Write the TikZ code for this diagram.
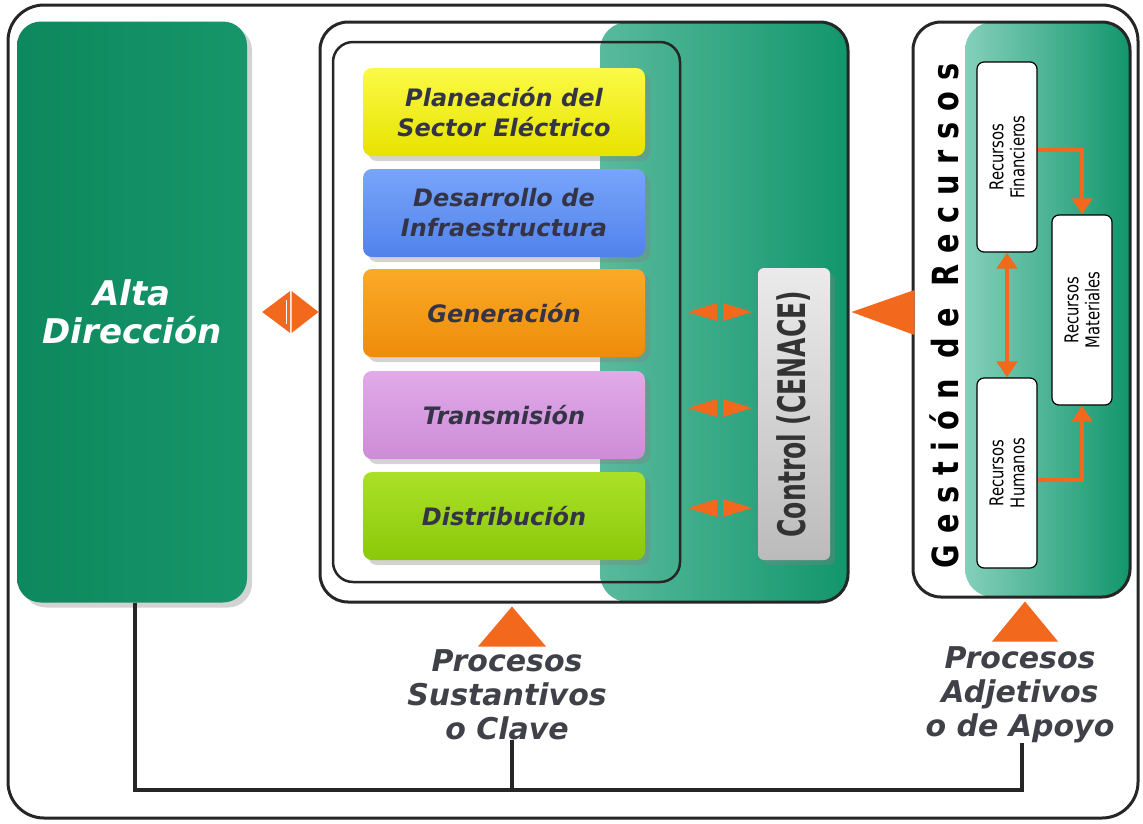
\documentclass[tikz,border=0pt]{standalone}
\usepackage{fontspec}
\setmainfont{DejaVu Sans}
\newfontfamily\narrowfont[FakeStretch=0.66]{DejaVu Sans}
\newfontfamily\resfont[FakeStretch=0.78]{DejaVu Sans}
\newfontfamily\spacedfont[FakeStretch=0.8,LetterSpace=30]{DejaVu Sans}
\usetikzlibrary{shadows,arrows.meta,calc}

\definecolor{altagreen}{RGB}{14,136,94}
\definecolor{altagreenL}{RGB}{22,150,106}
\definecolor{tealL}{RGB}{168,226,210}
\definecolor{tealR}{RGB}{18,150,108}
\definecolor{arrowora}{RGB}{242,104,28}
\definecolor{inktext}{RGB}{52,52,70}
\definecolor{lbltext}{RGB}{64,64,72}
\definecolor{ylwT}{RGB}{250,250,70}\definecolor{ylwB}{RGB}{232,226,0}
\definecolor{bluT}{RGB}{120,165,250}\definecolor{bluB}{RGB}{80,130,235}
\definecolor{orgT}{RGB}{250,170,40}\definecolor{orgB}{RGB}{238,140,10}
\definecolor{vioT}{RGB}{225,170,232}\definecolor{vioB}{RGB}{205,140,215}
\definecolor{grnT}{RGB}{170,225,40}\definecolor{grnB}{RGB}{140,200,10}
\definecolor{ctrlgray}{RGB}{220,220,220}

\tikzset{
  procbox/.style={rounded corners=9pt, minimum width=282pt, minimum height=88pt,
    align=center, font=\fontsize{24}{30}\selectfont\bfseries\itshape, text=inktext,
    drop shadow={opacity=0.35, shadow xshift=5pt, shadow yshift=-5pt}},
  resbox/.style={draw=black, line width=1.2pt, fill=white, rounded corners=7pt,
    minimum width=190pt, minimum height=60pt, rotate=90, align=center,
    font=\resfont\fontsize{19}{21}\selectfont},
  panelframe/.style={draw=black!85, line width=3pt, rounded corners=28pt},
  oraline/.style={draw=arrowora, line width=4pt},
  oratip/.style={-{Triangle[width=20pt,length=16pt]}},
  bus/.style={draw=black!85, line width=4pt},
  lbl/.style={align=center, inner sep=0pt, text=lbltext,
    font=\fontsize{30}{34}\selectfont\bfseries\itshape},
  pics/dblarrow/.style={code={
    \fill[arrowora] (-3,-9) -- (-32,0) -- (-3,9) -- cycle;
    \fill[arrowora] (3,-9) -- (32,0) -- (3,9) -- cycle;}}
}

\begin{document}
\begin{tikzpicture}[x=1pt,y=-1pt]
\useasboundingbox (0,0) rectangle (1143,823);

% outer frame
\draw[black!85, line width=3pt, rounded corners=36pt] (8,5) rectangle (1138,818);

% top management block
\node[rounded corners=24pt, minimum width=230pt, minimum height=581pt,
  left color=altagreen, right color=altagreenL,
  drop shadow={opacity=0.35, shadow xshift=5pt, shadow yshift=-5pt},
  text=white, align=center, font=\fontsize{34}{38}\selectfont\bfseries\itshape]
  (alta) at (132,312) {Alta\\Dirección};

% core processes panel
\node[panelframe, minimum width=528pt, minimum height=580pt,
  path picture={\shade[left color=tealL, right color=tealR]
    ($(path picture bounding box.north west)+(280,0)$) rectangle (path picture bounding box.south east);}]
  (core) at (584,312) {};
\node[draw=black!85, line width=2.5pt, rounded corners=20pt,
  minimum width=347pt, minimum height=540pt] (coreIn) at (506.5,312) {};

\node[procbox, top color=ylwT, bottom color=ylwB] (plan) at (504,112) {Planeación del\\Sector Eléctrico};
\node[procbox, top color=bluT, bottom color=bluB] (infra) at (504,213) {Desarrollo de\\Infraestructura};
\node[procbox, top color=orgT, bottom color=orgB] (gen) at (504,313) {Generación};
\node[procbox, top color=vioT, bottom color=vioB] (trans) at (504,415) {Transmisión};
\node[procbox, top color=grnT, bottom color=grnB] (dist) at (504,516) {Distribución};

\node[rounded corners=6pt, minimum width=292pt, minimum height=72pt, rotate=90,
  top color=white!92!black, bottom color=ctrlgray!85!black,
  drop shadow={opacity=0.35, shadow xshift=5pt, shadow yshift=-5pt},
  font=\narrowfont\fontsize{38}{40}\selectfont\bfseries, text=black!80]
  (ctrl) at (794,414) {Control (CENACE)};

\pic at (720,312) {dblarrow};
\pic at (720,408) {dblarrow};
\pic at (720,508) {dblarrow};

% support processes panel
\node[panelframe, minimum width=217pt, minimum height=575pt,
  path picture={\shade[left color=tealL, right color=tealR]
    ($(path picture bounding box.north west)+(52,0)$) rectangle (path picture bounding box.south east);}]
  (apoyo) at (1021.5,309.5) {};
\node[rotate=90, font=\spacedfont\fontsize{36}{38}\selectfont\bfseries, text=black]
  (gest) at (944,316) {Gestión de Recursos};

\node[resbox] (rf) at (1007,157) {Recursos\\Financieros};
\node[resbox] (rh) at (1007,473) {Recursos\\Humanos};
\node[resbox] (rm) at (1082,310) {Recursos\\Materiales};

% flows between the resources
\draw[oraline, oratip] ($(rf.south)+(0,-7)$) -| (rm.east);
\draw[oraline, oratip] ($(rh.south)+(0,7)$) -| (rm.west);
\draw[oraline, {Triangle[width=20pt,length=16pt]}-{Triangle[width=20pt,length=16pt]}]
  (rf.west) -- (rh.east);

% links between the blocks
\fill[arrowora] (alta.east) ++(15,0) -- ++(28,-21) -- ++(0,42) -- cycle;
\fill[arrowora] (core.west) -- ++(-27,-21) -- ++(0,42) -- cycle;
\draw[white, line width=1.5pt] ($(alta.east)!0.55!(core.west)$) ++(0,-12) -- ++(0,24);
\fill[arrowora] (core.east) ++(2,0) -- ++(63,-22) -- ++(0,45) -- cycle;

% labels and their pointers
\node[lbl] (lblA) at (507,695) {Procesos\\Sustantivos\\o Clave};
\node[lbl] (lblB) at (1020,695) {Procesos\\Adjetivos\\o de Apoyo};
\fill[arrowora] (core.south -| 512,0) ++(0,3) -- ++(-34,40) -- ++(68,0) -- cycle;
\fill[arrowora] (apoyo.south -| 1025,0) ++(0,3) -- ++(-33,40) -- ++(66,0) -- cycle;

% bus to the top management block
\coordinate (busL) at (135,790);
\draw[bus] (alta.south -| busL) -- (busL) -| (lblB.south -| 1022,0);
\draw[bus] (busL) -| (lblA.south -| 512,0);
\end{tikzpicture}
\end{document}
